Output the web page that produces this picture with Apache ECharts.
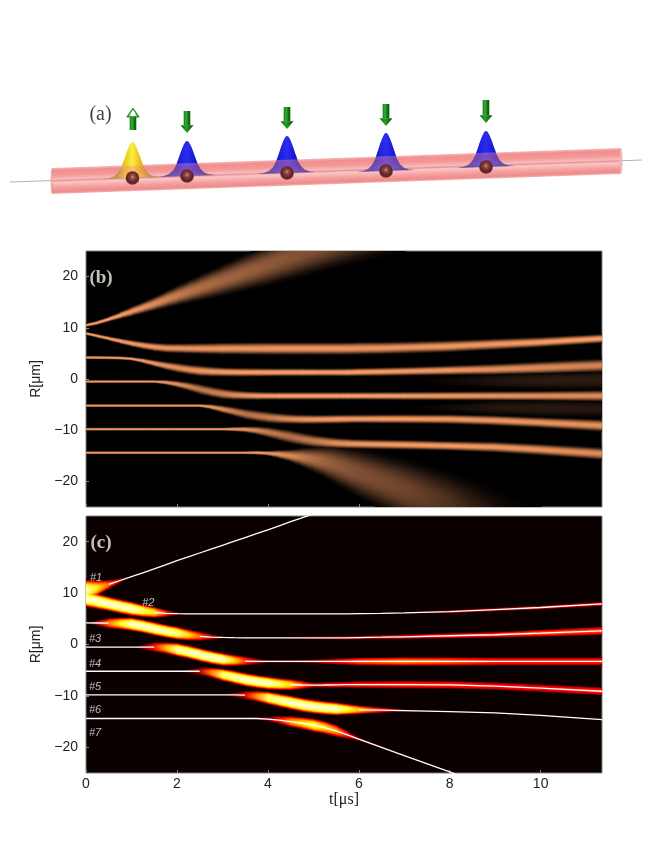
<!DOCTYPE html>
<html><head><meta charset="utf-8">
<style>html,body{margin:0;padding:0;background:#fff}#c{width:665px;height:843px}</style>
<script src="https://cdn.jsdelivr.net/npm/echarts@6/dist/echarts.min.js"></script>
</head><body><div id="c"></div>
<script>
// ---- ridge sample times (µs) and ridge positions (µm)
const ridgeT = [0,.25,.5,.75,1,1.25,1.5,1.75,2,2.25,2.5,2.75,3,3.25,3.5,3.75,4,4.25,4.5,4.75,5,5.25,5.5,5.75,6,6.5,7,8,9,10,11.35];
const ridge1 = [10.5,11,11.7,12.45,13.2,13.95,14.7,15.5,16.3,17.05,17.8,18.55,19.3,20.05,20.8,21.55,22.3,23.1,23.9,24.65,25.4,26.15,26.9,27.65,28.4,29.9,31.4,34.4,37.4,40.4,44.4];
const ridge2 = [8.9,8.4,7.9,7.4,6.95,6.55,6.25,6.05,6,5.97,5.95,5.95,5.95,5.95,5.95,5.95,5.95,5.95,5.95,5.95,5.95,5.95,5.95,5.95,6,6.05,6.15,6.4,6.8,7.2,7.9];
const ridge3 = [4.2,4.18,4.15,4.1,3.95,3.55,3.05,2.6,2.2,1.85,1.6,1.45,1.37,1.32,1.3,1.3,1.3,1.3,1.3,1.3,1.3,1.3,1.3,1.3,1.35,1.42,1.5,1.7,1.9,2.2,2.65];
const ridge4 = [-.5,-.5,-.5,-.5,-.5,-.5,-.5,-.65,-1,-1.45,-2,-2.5,-2.9,-3.12,-3.22,-3.28,-3.3,-3.3,-3.3,-3.3,-3.3,-3.3,-3.3,-3.3,-3.3,-3.3,-3.3,-3.3,-3.3,-3.3,-3.3];
const ridge5 = [-5.2,-5.2,-5.2,-5.2,-5.2,-5.2,-5.2,-5.2,-5.2,-5.2,-5.2,-5.45,-5.9,-6.35,-6.85,-7.2,-7.5,-7.7,-7.82,-7.88,-7.9,-7.88,-7.85,-7.82,-7.8,-7.8,-7.8,-7.85,-8.1,-8.5,-9.1];
const ridge6 = [-9.8,-9.8,-9.8,-9.8,-9.8,-9.8,-9.8,-9.8,-9.8,-9.8,-9.8,-9.8,-9.8,-9.8,-9.85,-10.05,-10.4,-10.85,-11.3,-11.75,-12.1,-12.35,-12.52,-12.63,-12.7,-12.78,-12.85,-13.05,-13.3,-13.8,-14.6];
const ridge7 = [-14.4,-14.4,-14.4,-14.4,-14.4,-14.4,-14.4,-14.4,-14.4,-14.4,-14.4,-14.4,-14.4,-14.4,-14.4,-14.4,-14.5,-14.7,-15,-15.3,-15.7,-16.15,-16.8,-17.6,-18.4,-20,-21.6,-24.8,-28,-31.1,-35.4];
// faint late shoulders seen only in panel (b)
const shoulderUpper = [-.4,-.4,-.4,-.4,-.4,-.4,-.4,-.4,-.4,-.4,-.4,-.4,-.4,-.4,-.4,-.4,-.4,-.4,-.4,-.4,-.4,-.4,-.4,-.4,-.4,-.4,-.4,-.4,-.4,-.3,-.2];
const shoulderLower = [-5.6,-5.6,-5.6,-5.6,-5.6,-5.6,-5.6,-5.6,-5.6,-5.6,-5.6,-5.6,-5.6,-5.6,-5.6,-5.6,-5.6,-5.6,-5.6,-5.6,-5.6,-5.6,-5.6,-5.6,-5.6,-5.6,-5.6,-5.6,-5.6,-5.7,-5.8];

// ---- band sample times for widths and levels
const T = [0,.5,1,1.5,2,2.5,3,3.5,4,4.5,5,5.5,6,7,8,9,10,11.35];

// ---- panel (b): visible half-width (µm) and copper level at each sample time
const widthB1 = [.35,.5,1,1.4,2,2.6,3.2,3.7,4.2,4.7,5,5.4,5.8,6.6,7,7,7,7];
const levelB1 = [.8,.8,.75,.7,.62,.55,.5,.48,.45,.42,.4,.38,.35,.3,.25,.2,.1,.1];
const widthB2 = [.35,.45,.7,.9,1,1.1,1.2,1.25,1.3,1.3,1.3,1.3,1.3,1.25,1.2,1.15,1.05,.95];
const levelB2 = [.78,.78,.78,.76,.75,.75,.75,.75,.75,.75,.75,.75,.75,.75,.76,.76,.78,.8];
const widthB3 = [.35,.35,.35,.7,1,1.1,.95,.9,.85,.82,.8,.8,.85,.9,1,1.15,1.3,1.4];
const levelB3 = [.78,.78,.78,.76,.72,.75,.78,.8,.8,.8,.8,.8,.8,.78,.76,.72,.7,.66];
const widthB4 = [.3,.3,.3,.3,.7,1.1,1.1,.9,.8,.8,.8,.8,.8,.85,.9,.95,1,1.2];
const levelB4 = [.78,.78,.78,.78,.72,.6,.66,.74,.8,.8,.8,.8,.8,.78,.76,.74,.72,.7];
const widthB5 = [.3,.3,.3,.3,.3,.3,.8,1.1,1.2,1,.95,.92,.9,.95,1,1.05,1.1,1.3];
const levelB5 = [.78,.78,.78,.78,.78,.78,.7,.58,.62,.72,.76,.78,.78,.78,.76,.76,.74,.72];
const widthB6 = [.3,.3,.3,.3,.3,.3,.3,.6,1.1,1.4,1.3,1.1,1,1,1,1.1,1.2,1.3];
const levelB6 = [.78,.78,.78,.78,.78,.78,.78,.74,.62,.56,.62,.72,.76,.78,.78,.76,.74,.7];
const widthB7 = [.3,.3,.3,.3,.3,.3,.3,.3,.5,1.3,2.6,4,5,6.2,7,7,7,7];
const levelB7 = [.78,.78,.78,.78,.78,.78,.78,.78,.76,.68,.55,.45,.4,.35,.25,.1,0,0];
const widthB8 = [0,0,0,0,0,0,0,0,0,0,0,0,0,0,1,1.6,1.9,2];
const levelB8 = [0,0,0,0,0,0,0,0,0,0,0,0,0,0,.04,.1,.13,.14];
const widthB9 = [0,0,0,0,0,0,0,0,0,0,0,0,0,0,1,1.6,1.8,1.8];
const levelB9 = [0,0,0,0,0,0,0,0,0,0,0,0,0,0,.05,.11,.12,.12];

// ---- panel (c): visible half-width (µm) and hot level at each sample time
const widthC1 = [2.3,.9,0,0,0,0,0,0,0,0,0,0,0,0,0,0,0,0];
const levelC1 = [.92,.5,0,0,0,0,0,0,0,0,0,0,0,0,0,0,0,0];
const widthC2 = [1.7,1.5,1.45,1.15,.3,0,0,0,0,0,0,0,0,.1,.35,.38,.4,.45];
const levelC2 = [.95,.95,.95,.72,.14,0,0,0,0,0,0,0,0,.05,.2,.22,.25,.3];
const widthC3 = [0,1.1,1.4,1.4,1.35,.95,.2,.1,.1,.2,.3,.35,.4,.5,.55,.6,.7,.9];
const levelC3 = [0,.55,.95,.95,.9,.5,.1,.05,.05,.1,.15,.18,.22,.3,.36,.42,.48,.45];
const widthC4 = [0,0,0,1,1.4,1.4,1.35,.95,.3,.3,.4,.6,.8,.9,.9,.85,.85,.85];
const levelC4 = [0,0,0,.4,.92,.95,.95,.45,.1,.15,.25,.38,.5,.55,.5,.42,.42,.42];
const widthC5 = [0,0,0,0,0,.8,1.3,1.4,1.35,1.15,.5,.6,.7,.8,.8,.8,.8,.85];
const levelC5 = [0,0,0,0,0,.25,.88,.95,.95,.7,.3,.36,.4,.42,.42,.38,.38,.42];
const widthC6 = [0,0,0,0,0,0,0,.9,1.35,1.45,1.45,1.35,.9,.2,0,0,0,0];
const levelC6 = [0,0,0,0,0,0,0,.3,.88,.95,.95,.95,.65,.12,0,0,0,0];
const widthC7 = [0,0,0,0,0,0,0,0,.5,1.15,1.4,1.25,.4,0,0,0,0,0];
const levelC7 = [0,0,0,0,0,0,0,0,.18,.6,.8,.6,.15,0,0,0,0,0];

// ---- panel (c): time ranges where each white trajectory line shows
const lineRanges = [
  [[.5,11.35]], [[1.5,11.35]], [[0,.5],[2.5,11.35]], [[0,1.5],[3.5,11.35]],
  [[0,2.5],[4.5,11.35]], [[0,3.5],[6,11.35]], [[0,11.35]]
];
const ionNames = ['#1','#2','#3','#4','#5','#6','#7'];
const ionLabelT = [.22,1.37,.2,.2,.2,.2,.2];
const ionLabelR = [12.9,8,1,-3.7,-8.2,-12.7,-17.2];

// ---- axis ticks
const tTicks = [0,2,4,6,8,10];
const rTicks = [-20,-10,0,10,20];

// ---- panel (a) scene, in the scene's own page-sized coordinates
const ionX = [132.5,187,287,386,486];
const ionY = [178,176,173,171,167];
const bumpPeakX = [132.5,187,287,386,486];
const bumpPeakY = [142,141,136,133,131];
const arrowX = [133,187,287,386,486];
const arrowTop = [108,111,107,104,100];
const arrowBottom = [130,133,129,126,123];
const spinUp = [1,0,0,0,0];
const tubeLeft = [52,168,194];
const tubeRight = [621,148,174];
const wireEnds = [[10,182],[642,160]];
const bumpProfile = [[-1,0],[-.8,.02],[-.62,.07],[-.48,.17],[-.37,.33],[-.28,.53],[-.2,.72],[-.12,.88],[-.05,.98],[0,1],
                     [.05,.98],[.12,.88],[.2,.72],[.28,.53],[.37,.33],[.48,.17],[.62,.07],[.8,.02],[1,0]];

// ---- band drawing layers: fraction of half-width, fraction of level
const bandWidths = [1,.92,.84,.76,.68,.6,.52,.44,.36,.28,.2,.12];
const bandGainsB = [.04,.11,.2,.32,.44,.56,.67,.77,.85,.92,.97,.99];
const bandGainsC = [.03,.19,.35,.5,.62,.72,.82,.87,.92,.96,.98,.99];

function copper(v){v=Math.max(0,Math.min(1,v));
  return `rgb(${Math.round(Math.min(1,1.25*v)*255)},${Math.round(.7812*v*255)},${Math.round(.4975*v*255)})`;}
function hot(v){v=Math.max(0,Math.min(1,v));const c=x=>Math.max(0,Math.min(1,x));
  return `rgb(${Math.round(c(.04+v/.365)*255)},${Math.round(c((v-.365)/.365)*255)},${Math.round(c((v-.73)/.27)*255)})`;}

const ridges=[ridge1,ridge2,ridge3,ridge4,ridge5,ridge6,ridge7];
const ridgesB=[shoulderUpper,shoulderLower,...ridges];
function at(arr,t){ // value of a sampled width or level row at a ridge sample time
  for(let i=0;i<T.length-1;i++){ if(t<=T[i+1]){const f=(t-T[i])/(T[i+1]-T[i]);return arr[i]+(arr[i+1]-arr[i])*f;} }
  return arr[arr.length-1];
}
function segments(rows,widths,levels){const out=[];
  rows.forEach((r,k)=>{for(let i=0;i<ridgeT.length-1;i++){
    const t0=ridgeT[i],t1=ridgeT[i+1],a0=at(levels[k],t0),a1=at(levels[k],t1);
    if(a0===0&&a1===0)continue;
    out.push([t0,r[i],at(widths[k],t0),a0,t1,r[i+1],at(widths[k],t1),a1]);
  }});return out;}
function bandSeries(ax,rows,widths,levels,cmap,gains){
  const data=segments(rows,widths,levels);
  return bandWidths.map((f,li)=>({type:'custom',xAxisIndex:ax,yAxisIndex:ax,clip:true,silent:true,animation:false,z:2+li,
    encode:{x:[0,4],y:[1,5]},data,
    renderItem(p,api){
      const v=i=>api.value(i);
      const w0=v(2)*f,w1=v(6)*f;
      const a=api.coord([v(0),v(1)+w0]),b=api.coord([v(4),v(5)+w1]),c=api.coord([v(4),v(5)-w1]),d=api.coord([v(0),v(1)-w0]);
      const g=gains[li];
      return {type:'polygon',shape:{points:[a,[b[0]+.7,b[1]],[c[0]+.7,c[1]],d]},
        style:{fill:new echarts.graphic.LinearGradient(0,0,1,0,[{offset:0,color:cmap(v(3)*g)},{offset:1,color:cmap(v(7)*g)}])}};
    }}));
}
function whiteLines(){
  return ridges.map((r,k)=>{const data=[];
    lineRanges[k].forEach(([a,b])=>{ridgeT.forEach((t,i)=>{if(t>=a&&t<=b)data.push([t,r[i]]);});data.push([null,null]);});
    return {type:'line',xAxisIndex:1,yAxisIndex:1,data,showSymbol:false,symbol:'none',connectNulls:false,clip:true,silent:true,animation:false,z:30,
      lineStyle:{color:'#fff',width:1.3}};});
}

// ---- panel (a) scene series
const scene={xAxisIndex:2,yAxisIndex:2,silent:true,animation:false,clip:false};
const G=echarts.graphic;
function bumps(z,opacity){return {...scene,type:'custom',z,encode:{x:0,y:1},
  data:bumpPeakX.map((x,i)=>[x,bumpPeakY[i],ionY[i],spinUp[i]]),
  renderItem(p,api){
    const x=api.value(0),top=api.value(1),base=api.value(2),up=api.value(3);
    const pts=bumpProfile.map(([u,h])=>api.coord([x+u*29,base-(u*.9)-h*(base-top)]));
    const cols=up?['#a08010','#e8c81e','#fbee40','#e8b818','#a88412']:['#10109a','#1c1cd8','#2c2cf0','#1818d0','#101090'];
    return {type:'polygon',shape:{points:pts},style:{opacity,
      fill:new G.LinearGradient(.22,0,.78,0,cols.map((c,i)=>({offset:i/4,color:c})))}};
  }};}
const tubeSeries={...scene,type:'custom',z:5,encode:{x:[0,2],y:[1,3]},
  data:[[tubeLeft[0],tubeLeft[1],tubeLeft[2],tubeRight[0],tubeRight[1],tubeRight[2]]],
  renderItem(p,api){
    const v=i=>api.value(i);
    const a=api.coord([v(0),v(1)]),b=api.coord([v(3),v(4)]),c=api.coord([v(3),v(5)]),d=api.coord([v(0),v(2)]);
    const mx=(a[0]+b[0])/2,my=(a[1]+b[1])/2,th=d[1]-a[1],nx=th*(a[1]-b[1])/(b[0]-a[0]);
    const grad=new G.LinearGradient(mx,my,mx+nx,my+th,[
      {offset:0,color:'rgba(246,170,170,.85)'},{offset:.1,color:'rgba(240,130,130,.9)'},{offset:.28,color:'rgba(242,140,140,.9)'},
      {offset:.44,color:'rgba(248,180,180,.9)'},{offset:.5,color:'rgba(226,146,146,.9)'},{offset:.56,color:'rgba(251,192,192,.9)'},
      {offset:.75,color:'rgba(243,150,150,.9)'},{offset:.92,color:'rgba(238,125,125,.9)'},{offset:1,color:'rgba(245,165,165,.85)'}],true);
    return {type:'group',children:[
      {type:'ellipse',shape:{cx:(a[0]+d[0])/2,cy:(a[1]+d[1])/2,rx:1.5,ry:(d[1]-a[1])/2},style:{fill:'rgba(240,160,160,.85)'}},
      {type:'polygon',shape:{points:[a,b,c,d]},style:{fill:grad}},
      {type:'ellipse',shape:{cx:(b[0]+c[0])/2,cy:(b[1]+c[1])/2,rx:1.5,ry:(c[1]-b[1])/2},style:{fill:'rgba(244,180,180,.9)'}}
    ]};
  }};
const wireSeries={...scene,type:'line',z:4,data:wireEnds,showSymbol:false,symbol:'none',lineStyle:{color:'#aaaaaa',width:.9}};
const ionSeries={...scene,type:'custom',z:7,encode:{x:0,y:1},data:ionX.map((x,i)=>[x,ionY[i]]),
  renderItem(p,api){
    const c=api.coord([api.value(0),api.value(1)]);
    return {type:'circle',shape:{cx:c[0],cy:c[1],r:6.8},
      style:{fill:new G.RadialGradient(.5,.42,.58,[{offset:0,color:'#c89090'},{offset:.28,color:'#8c4444'},{offset:.7,color:'#642222'},{offset:1,color:'#6a3434'}])}};
  }};
const arrowSeries={...scene,type:'custom',z:8,encode:{x:0,y:[1,2]},data:arrowX.map((x,i)=>[x,arrowTop[i],arrowBottom[i],spinUp[i]]),
  renderItem(p,api){
    const x=api.value(0),t=api.value(1),b=api.value(2),up=api.value(3);
    const C=(dx,y)=>api.coord([x+dx,y]);
    const shaftFill=new G.LinearGradient(0,0,1,0,[{offset:0,color:'#147014'},{offset:.35,color:'#38b038'},{offset:.7,color:'#127212'},{offset:1,color:'#0a560a'}]);
    const headFill=up?new G.LinearGradient(0,0,1,0,[{offset:0,color:'#2a9a2a'},{offset:.35,color:'#f4fff4'},{offset:.6,color:'#ffffff'},{offset:1,color:'#1a8a1a'}])
                     :new G.LinearGradient(0,0,1,0,[{offset:0,color:'#0c620c'},{offset:.42,color:'#22a022'},{offset:1,color:'#064a06'}]);
    const shaft=up?[C(-3.3,t+8),C(3.3,t+8),C(3.3,b),C(-3.3,b)]:[C(-3.3,t),C(3.3,t),C(3.3,b-7.5),C(-3.3,b-7.5)];
    const head=up?[C(0,t+.5),C(5.8,t+8.8),C(-5.8,t+8.8)]:[C(-6.5,b-7.8),C(6.5,b-7.8),C(0,b)];
    return {type:'group',children:[
      {type:'polygon',shape:{points:shaft},style:{fill:shaftFill}},
      {type:'polygon',shape:{points:head},style:up?{fill:headFill,stroke:'#1e8c1e',lineWidth:1.3,lineJoin:'round'}:{fill:headFill}}]};
  }};
const sceneLabel={...scene,type:'scatter',z:9,symbolSize:0,data:[[100.5,115]],
  label:{show:true,position:'inside',formatter:'(a)',fontFamily:'Liberation Serif',fontSize:20,color:'#111'}};

function panelLabel(ax,txt,t,r){return {type:'scatter',xAxisIndex:ax,yAxisIndex:ax,silent:true,animation:false,z:40,symbolSize:0,data:[[t,r]],
  label:{show:true,position:'inside',formatter:txt,fontFamily:'Liberation Serif',fontWeight:'bold',fontSize:19,color:'#f4f0ea'}};}
const ionLabels={type:'scatter',xAxisIndex:1,yAxisIndex:1,silent:true,animation:false,z:40,symbolSize:0,
  data:ionLabelT.map((t,i)=>({value:[t,ionLabelR[i]],label:{formatter:ionNames[i]}})),
  label:{show:true,position:'inside',fontFamily:'Liberation Sans',fontStyle:'italic',fontSize:11,color:'#e8e8e8'}};

const tickLbl={fontFamily:'Liberation Sans',fontSize:14,color:'#222'};
const xAxisBase={type:'value',min:0,max:11.35,splitLine:{show:false},axisLine:{show:false,onZero:false},
  axisTick:{show:true,inside:true,length:3,customValues:tTicks,lineStyle:{color:'#888'}}};
const yAxisBase={type:'value',min:-25,max:25,splitLine:{show:false},axisLine:{show:false,onZero:false},
  axisTick:{show:true,inside:true,length:3,customValues:rTicks,lineStyle:{color:'#888'}},
  axisLabel:{...tickLbl,margin:8,customValues:rTicks,formatter:v=>String(v).replace('-','\u2212')},
  name:'R[\u03bcm]',nameLocation:'middle',nameGap:17,nameRotate:90,nameTextStyle:{fontFamily:'Liberation Sans',fontSize:14,color:'#222'}};

const chart=echarts.init(document.getElementById('c'),null,{renderer:'canvas'});
chart.setOption({
  animation:false,backgroundColor:'#fff',
  grid:[
    {left:86,top:251,width:516,height:256,show:true,backgroundColor:'#000',borderColor:'#808080',borderWidth:1},
    {left:86,top:516,width:516,height:257,show:true,backgroundColor:'#0a0000',borderColor:'#808080',borderWidth:1},
    {left:0,top:0,width:665,height:843,show:false}
  ],
  xAxis:[
    {...xAxisBase,gridIndex:0,axisLabel:{show:false}},
    {...xAxisBase,gridIndex:1,axisLabel:{...tickLbl,margin:4,customValues:tTicks},
      name:'t[\u03bcs]',nameLocation:'middle',nameGap:16,nameTextStyle:{fontFamily:'Liberation Serif',fontSize:16,color:'#222'}},
    {type:'value',gridIndex:2,min:0,max:665,show:false}
  ],
  yAxis:[
    {...yAxisBase,gridIndex:0},
    {...yAxisBase,gridIndex:1},
    {type:'value',gridIndex:2,min:0,max:843,inverse:true,show:false}
  ],
  series:[
    bumps(3,1),wireSeries,tubeSeries,bumps(6,.55),ionSeries,arrowSeries,sceneLabel,
    ...bandSeries(0,ridgesB,[widthB8,widthB9,widthB1,widthB2,widthB3,widthB4,widthB5,widthB6,widthB7],[levelB8,levelB9,levelB1,levelB2,levelB3,levelB4,levelB5,levelB6,levelB7],copper,bandGainsB),
    ...bandSeries(1,ridges,[widthC1,widthC2,widthC3,widthC4,widthC5,widthC6,widthC7],[levelC1,levelC2,levelC3,levelC4,levelC5,levelC6,levelC7],hot,bandGainsC),
    ...whiteLines(),
    panelLabel(0,'(b)',.33,19.8),panelLabel(1,'(c)',.33,19.8),ionLabels
  ]
});
</script></body></html>
